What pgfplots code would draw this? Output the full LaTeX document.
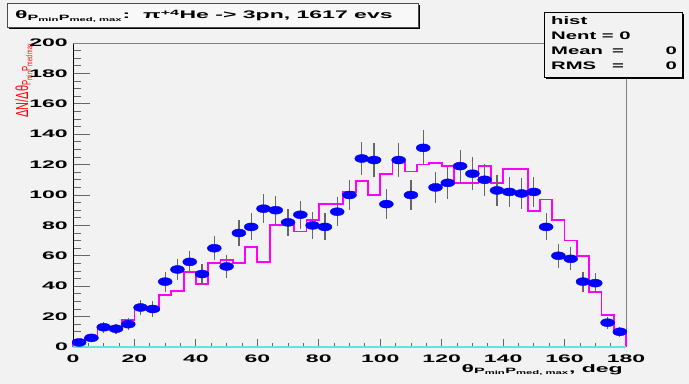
\documentclass[border=0pt]{standalone}
\usepackage{fontspec}
\usepackage{graphicx}
\usepackage{pgfplots}
\usepackage{pgfplotstable}
\pgfplotsset{compat=1.18}
\setmainfont{Liberation Sans}
\newfontfamily\rootfont{Liberation Sans}[FakeStretch=2.1]
\newfontfamily\statfont{Liberation Sans}[FakeStretch=1.85]
\definecolor{bg}{RGB}{242,242,242}
\definecolor{hmag}{RGB}{255,0,255}
\definecolor{hcyan}{RGB}{100,225,225}
\newcommand\rf{\rootfont\bfseries\fontsize{11}{13}\selectfont}
\newcommand\stf{\statfont\bfseries\fontsize{11}{13}\selectfont}

\pgfplotstableread{
x y e
2 3 1.73
6 6 2.45
10 13 3.61
14 12 3.46
18 15 3.87
22 26 5.10
26 25 5.00
30 43 6.56
34 51 7.14
38 56 7.48
42 48 6.93
46 65 8.06
50 53 7.28
54 75 8.66
58 79 8.89
62 91 9.54
66 90 9.49
70 82 9.06
74 87 9.33
78 80 8.94
82 79 8.89
86 89 9.43
90 100 10.00
94 124 11.14
98 123 11.09
102 94 9.70
106 123 11.09
110 100 10.00
114 131 11.45
118 105 10.25
122 108 10.39
126 119 10.91
130 114 10.68
134 110 10.49
138 103 10.15
142 102 10.10
146 101 10.05
150 102 10.10
154 79 8.89
158 60 7.75
162 58 7.62
166 43 6.56
170 42 6.48
174 16 4.00
178 10 3.16
}\datatab

\pgfplotstableread{
x y
0 0
0 4
4 6
8 13
12 13
16 18
20 26
24 24.5
28 34
32 37
36 49.5
40 41.5
44 55
48 57
52 55
56 66
60 56
64 80
68 80
72 76
76 83.5
80 94
84 94
88 102
92 109
96 100
100 114
104 122
108 115.5
112 120
116 121
120 119
124 108
128 108
132 119
136 108
140 117
144 117
148 89.5
152 97
156 83.5
160 70
164 60
168 36
172 21
176 9
180 9
180 0
}\mctab

\begin{document}
\begin{tikzpicture}
\useasboundingbox (0,0) rectangle (689bp,384bp);
\fill[bg] (0,0) rectangle (689bp,384bp);

% x ticks axis
\begin{axis}[
  at={(73bp,37bp)}, anchor=south west, scale only axis,
  width=553bp, height=304bp,
  xmin=0, xmax=180, ymin=0, ymax=200,
  axis x line*=bottom, axis y line=none,
  x axis line style={draw=none},
  xtick={0,20,...,180}, minor x tick num=3,
  tick align=inside, major tick length=8bp, minor tick length=4bp,
  tick style={black!60, line width=0.8bp},
  /pgf/number format/assume math mode=true,
  xticklabel style={font=\rf, anchor=north, inner sep=0pt, yshift=-8bp},
]
\end{axis}

% main axis
\begin{axis}[
  at={(73bp,37bp)}, anchor=south west, scale only axis,
  width=553bp, height=304bp,
  xmin=0, xmax=180, ymin=0, ymax=200,
  axis x line*=bottom, axis y line*=left,
  axis line style={black, line width=1bp},
  xtick=\empty,
  ytick={0,20,...,200}, minor y tick num=3,
  tick align=inside, major tick length=17bp, minor tick length=8bp,
  tick style={black!60, line width=0.8bp},
  /pgf/number format/assume math mode=true,
  yticklabel style={font=\rf, anchor=east, inner sep=0pt, xshift=-5bp},
  clip=false,
]
\draw[black!50, line width=0.8bp] (axis cs:0,200) -- (axis cs:180,200) -- (axis cs:180,0);
\addplot[hmag, line width=1.8bp, const plot mark left, mark=none] table[x=x,y=y]{\mctab};
\addplot[only marks, mark=*, mark size=4bp,
  mark options={fill=blue, draw=blue, xscale=1.75},
  error bars/.cd, y dir=both, y explicit, error mark=none,
  error bar style={black!60, line width=1.2bp}]
  table[x=x, y=y, y error=e]{\datatab};
\addplot[hcyan, line width=1.3bp, mark=none] coordinates {(0,0) (180,0)};
\end{axis}

% title box
\fill[black] (9bp,355bp) rectangle (420bp,379bp);
\filldraw[fill=bg!50!white, draw=black!70, line width=0.6bp] (7bp,357bp) rectangle (418bp,381bp);
\node[anchor=base west, inner sep=0pt, font=\rf] at (15bp,365bp)
  {θ\textsubscript{P\textsubscript{min}P\textsubscript{med, max}}:~~π\textsuperscript{+4}He -> 3pn, 1617 evs};

% stats box
\fill[black] (546bp,305bp) rectangle (684bp,370bp);
\filldraw[fill=bg, draw=black, line width=0.6bp] (544bp,307bp) rectangle (682bp,372bp);
\node[anchor=base west, inner sep=0pt, font=\stf] at (551bp,359bp) {hist};
\node[anchor=base west, inner sep=0pt, font=\stf] at (551bp,344bp) {Nent = 0};
\node[anchor=base west, inner sep=0pt, font=\stf] at (551bp,329bp) {Mean};
\node[anchor=base west, inner sep=0pt, font=\stf] at (612bp,329bp) {=};
\node[anchor=base east, inner sep=0pt, font=\stf] at (677bp,329bp) {0};
\node[anchor=base west, inner sep=0pt, font=\stf] at (551bp,314bp) {RMS};
\node[anchor=base west, inner sep=0pt, font=\stf] at (612bp,314bp) {=};
\node[anchor=base east, inner sep=0pt, font=\stf] at (677bp,314bp) {0};

% y label
\node[rotate=90, anchor=base east, inner sep=0pt, text=red, font=\fontsize{11}{13}\selectfont] at (28bp,341bp)
  {\scalebox{1}[1.6]{ΔN/Δθ\textsubscript{P\textsubscript{min}P\textsubscript{med max}}}};

% x label
\node[anchor=base east, inner sep=0pt, font=\rf] at (623bp,12bp)
  {θ\textsubscript{P\textsubscript{min}P\textsubscript{med, max}}, deg};
\end{tikzpicture}
\end{document}
